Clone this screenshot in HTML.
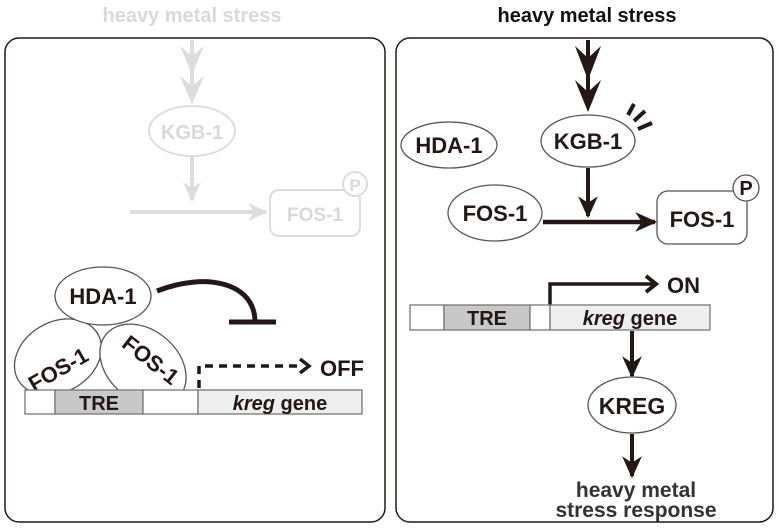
<!DOCTYPE html>
<html><head><meta charset="utf-8"><style>
html,body{margin:0;padding:0;background:#fff}
svg{display:block}
text{font-family:"Liberation Sans",sans-serif;font-weight:bold}
</style></head><body>
<svg width="780" height="529" viewBox="0 0 780 529">
<defs>
<marker id="ah" viewBox="0 0 20 20" refX="18" refY="10" markerUnits="userSpaceOnUse" markerWidth="22" markerHeight="22" orient="auto"><path d="M0,1 L20,10 L0,19 L6,10z" fill="#231815"/></marker>
<marker id="ahg" viewBox="0 0 20 20" refX="18" refY="10" markerUnits="userSpaceOnUse" markerWidth="20" markerHeight="20" orient="auto"><path d="M0,1 L20,10 L0,19 L6,10z" fill="#ddd"/></marker>
</defs>

<!-- Left panel -->
<g>
<rect x="5" y="38" width="380" height="484" rx="14" fill="#fff" stroke="#231815" stroke-width="1.5"/>
<text x="192" y="22" font-size="20" text-anchor="middle" fill="#d9d9d9">heavy metal stress</text>
<line x1="192" y1="40" x2="192" y2="100" stroke="#ddd" stroke-width="4"/>
<path d="M180,46 L192,56 L204,46 L192,74z M180,76 L192,86 L204,76 L192,104z" fill="#ddd"/>
<ellipse cx="192" cy="131" rx="43" ry="25" fill="#fff" stroke="#ddd" stroke-width="2"/>
<text x="192" y="139" font-size="20" text-anchor="middle" fill="#d9d9d9">KGB-1</text>
<line x1="192" y1="157" x2="192" y2="200" stroke="#ddd" stroke-width="4" marker-end="url(#ahg)"/>
<line x1="130" y1="212" x2="266" y2="212" stroke="#ddd" stroke-width="4" marker-end="url(#ahg)"/>
<rect x="270" y="190" width="90" height="46" rx="9" fill="#fff" stroke="#ddd" stroke-width="2"/>
<text x="315" y="221" font-size="19" text-anchor="middle" fill="#d9d9d9">FOS-1</text>
<circle cx="355" cy="184" r="12" fill="#fff" stroke="#ddd" stroke-width="2"/>
<text x="355" y="191" font-size="17" text-anchor="middle" fill="#d9d9d9">P</text>

<ellipse cx="58" cy="357" rx="46" ry="35" transform="rotate(-30 58 357)" fill="#fff" stroke="#555" stroke-width="1.3"/>
<ellipse cx="143" cy="365" rx="48" ry="35" transform="rotate(40 143 365)" fill="#fff" stroke="#555" stroke-width="1.3"/>
<text transform="translate(62,376) rotate(-30)" font-size="22" text-anchor="middle" fill="#231815">FOS-1</text>
<text transform="translate(146,366) rotate(38)" font-size="22" text-anchor="middle" fill="#231815">FOS-1</text>
<ellipse cx="103" cy="296" rx="48" ry="29" fill="#fff" stroke="#555" stroke-width="1.3"/>
<text x="103" y="304" font-size="22" text-anchor="middle" fill="#231815">HDA-1</text>
<path d="M157,291 C205,272 255,282 255,322" fill="none" stroke="#231815" stroke-width="5"/>
<line x1="229" y1="322" x2="276" y2="322" stroke="#231815" stroke-width="5"/>
<path d="M199,388 L199,366 L300,366" fill="none" stroke="#231815" stroke-width="3.5" stroke-dasharray="8,6"/>
<path d="M300,359 L309,366 L300,373" fill="none" stroke="#231815" stroke-width="3.5"/>
<text x="320" y="376" font-size="22" fill="#231815">OFF</text>
<g stroke="#777" stroke-width="1.3">
<rect x="25" y="390" width="30" height="24" fill="#fff"/>
<rect x="55" y="390" width="88" height="24" fill="#c8c8c8"/>
<rect x="143" y="390" width="55" height="24" fill="#fff"/>
<rect x="198" y="390" width="164" height="24" fill="#eee"/>
</g>
<text x="99" y="410" font-size="20" text-anchor="middle" fill="#231815">TRE</text>
<text x="280" y="410" font-size="20" text-anchor="middle" fill="#231815"><tspan font-style="italic">kreg</tspan> gene</text>
</g>

<!-- Right panel -->
<g>
<rect x="396" y="38" width="377" height="484" rx="14" fill="#fff" stroke="#231815" stroke-width="1.5"/>
<text x="587" y="22" font-size="20" text-anchor="middle" fill="#111">heavy metal stress</text>
<line x1="588" y1="40" x2="588" y2="100" stroke="#231815" stroke-width="4"/>
<path d="M575,46 L588,58 L601,46 L588,80z M575,80 L588,92 L601,80 L588,112z" fill="#231815"/>
<ellipse cx="588" cy="141" rx="47" ry="26" fill="#fff" stroke="#555" stroke-width="1.3"/>
<text x="588" y="149" font-size="22" text-anchor="middle" fill="#231815">KGB-1</text>
<g stroke="#231815" stroke-width="4">
<line x1="628" y1="115" x2="634" y2="104"/>
<line x1="634" y1="121" x2="645" y2="111"/>
<line x1="638" y1="129" x2="652" y2="123"/>
</g>
<ellipse cx="449" cy="145" rx="48" ry="23" fill="#fff" stroke="#555" stroke-width="1.3"/>
<text x="449" y="153" font-size="22" text-anchor="middle" fill="#231815">HDA-1</text>
<line x1="588" y1="168" x2="588" y2="216" stroke="#231815" stroke-width="4" marker-end="url(#ah)"/>
<ellipse cx="495" cy="213" rx="47" ry="28" fill="#fff" stroke="#555" stroke-width="1.3"/>
<text x="495" y="221" font-size="22" text-anchor="middle" fill="#231815">FOS-1</text>
<line x1="543" y1="222" x2="655" y2="222" stroke="#231815" stroke-width="4.5" marker-end="url(#ah)"/>
<rect x="657" y="191" width="90" height="53" rx="11" fill="#fff" stroke="#555" stroke-width="1.3"/>
<text x="702" y="227" font-size="22" text-anchor="middle" fill="#231815">FOS-1</text>
<circle cx="746" cy="188" r="13" fill="#fff" stroke="#555" stroke-width="1.3"/>
<text x="746" y="195" font-size="20" text-anchor="middle" fill="#231815">P</text>
<path d="M550,305 L550,284 L654,284" fill="none" stroke="#231815" stroke-width="3.5"/>
<path d="M646,276 L656,284 L646,292" fill="none" stroke="#231815" stroke-width="4"/>
<text x="667" y="293" font-size="22" fill="#231815">ON</text>
<g stroke="#777" stroke-width="1.3">
<rect x="410" y="305" width="34" height="25" fill="#fff"/>
<rect x="444" y="305" width="86" height="25" fill="#c8c8c8"/>
<rect x="530" y="305" width="20" height="25" fill="#fff"/>
<rect x="550" y="305" width="160" height="25" fill="#eee"/>
</g>
<text x="487" y="325" font-size="20" text-anchor="middle" fill="#231815">TRE</text>
<text x="630" y="325" font-size="20" text-anchor="middle" fill="#231815"><tspan font-style="italic">kreg</tspan> gene</text>
<line x1="632" y1="331" x2="632" y2="376" stroke="#231815" stroke-width="4" marker-end="url(#ah)"/>
<ellipse cx="632" cy="405" rx="44" ry="28" fill="#fff" stroke="#555" stroke-width="1.3"/>
<text x="632" y="414" font-size="23" text-anchor="middle" fill="#231815">KREG</text>
<line x1="632" y1="434" x2="632" y2="476" stroke="#231815" stroke-width="4" marker-end="url(#ah)"/>
<text x="636" y="497" font-size="21" text-anchor="middle" fill="#333">heavy metal</text>
<text x="636" y="517" font-size="21" text-anchor="middle" fill="#333">stress response</text>
</g>
</svg>
</body></html>
